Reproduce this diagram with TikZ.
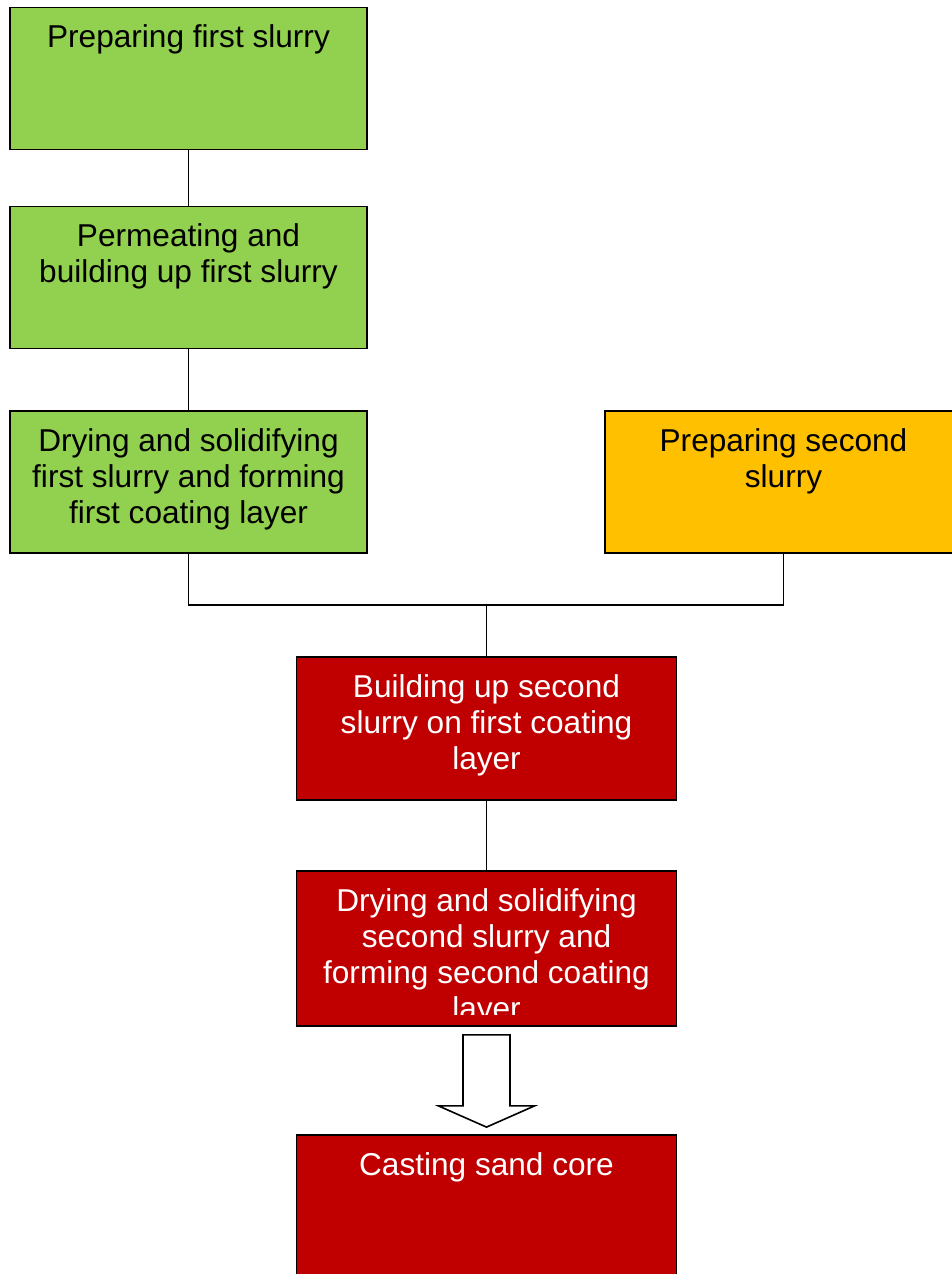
\documentclass[tikz,border=0pt]{standalone}
\usepackage{fontspec}
\setmainfont{Liberation Sans}
\usetikzlibrary{calc}
\definecolor{stepgreen}{RGB}{146,208,80}
\definecolor{steporange}{RGB}{255,192,0}
\definecolor{stepred}{RGB}{192,0,0}

\begin{document}
\begin{tikzpicture}[x=0.5pt,y=-0.5pt,
  stepbox/.style={draw=black,line width=0.9pt,minimum width=178.5pt,minimum height=71pt,inner sep=0pt},
  redbox/.style={stepbox,fill=stepred,minimum width=190pt},
  steptext/.style={anchor=north,align=center,inner sep=0pt,yshift=-9pt,font=\fontsize{15.8}{18}\selectfont},
  link/.style={draw=black,line width=0.8pt}]
\useasboundingbox (0,0) rectangle (952,1274);
\fill[white] (0,0) rectangle (952,1274);
% first slurry steps
\foreach \nbox/\ybox/\tbox in {b1/78.5/{Preparing first slurry},
  b2/277.5/{Permeating and\\building up first slurry},
  b3/482/{Drying and solidifying\\first slurry and forming\\first coating layer}}
{
  \node[stepbox,fill=stepgreen] (\nbox) at (188.5,\ybox) {};
  \node[steptext] (\nbox t) at (\nbox.north) {\tbox};
}
\node[stepbox,fill=steporange] (b4) at (783.5,482) {};
\node[steptext] (b4t) at (b4.north) {Preparing second\\slurry};
% second slurry steps
\node[redbox,minimum height=71.5pt] (b5) at (486.5,728.5) {};
\node[steptext,text=white] (b5t) at (b5.north) {Building up second\\slurry on first coating\\layer};
\node[redbox,minimum height=77.5pt] (b6) at (486.5,948.5) {};
\begin{scope}
  \clip ($(b6.north west)+(2,2)$) rectangle ($(b6.south east)+(-2,-12)$);
  \node[steptext,text=white] (b6t) at (b6.north) {Drying and solidifying\\second slurry and\\forming second coating\\layer};
\end{scope}
\node[redbox,minimum height=71pt] (b7) at (486.5,1206) {};
\node[steptext,text=white] (b7t) at (b7.north) {Casting sand core};
% connectors
\coordinate (j) at (486.5,605);
\draw[link] (b1) -- (b2);
\draw[link] (b2) -- (b3);
\draw[link] (b3.south) |- (j) -| (b4.south);
\draw[link] (j) -- (b5);
\draw[link] (b5) -- (b6);
% block arrow
\draw[link,fill=white] ($(b6.south)+(-23.5,8)$) -- ($(b6.south)+(23.5,8)$)
  -- ($(b6.south)+(23.5,79)$) -- ($(b6.south)+(48,79)$) -- ($(b7.north)+(0,-7)$)
  -- ($(b6.south)+(-48,79)$) -- ($(b6.south)+(-23.5,79)$) -- cycle;
\end{tikzpicture}
\end{document}
